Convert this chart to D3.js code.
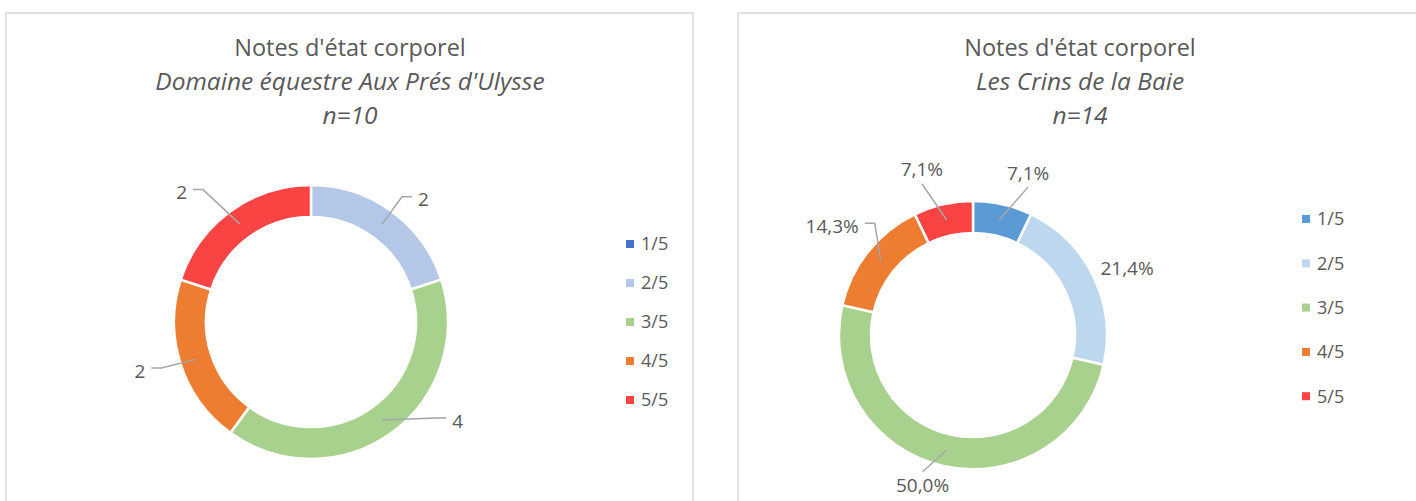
<!DOCTYPE html>
<html>
<head>
<meta charset="utf-8">
<script src="https://cdn.jsdelivr.net/npm/d3@7"></script>
<style>
  html, body { margin: 0; padding: 0; background: #fff; }
  svg { display: block; font-family: "Open Sans", "Noto Sans", sans-serif; }
</style>
</head>
<body>
<svg width="1416" height="501"></svg>
<script>
// categories and values
const categories = ["1/5", "2/5", "3/5", "4/5", "5/5"];
const countsUlysse = [0, 2, 4, 2, 2];
const countsCrins = [1, 3, 7, 2, 1];

const colorsUlysse = ["#4472C4", "#B4C7E7", "#A9D18E", "#ED7D31", "#FA4343"];
const colorsCrins = ["#5B9BD5", "#BDD7EE", "#A9D18E", "#ED7D31", "#FA4343"];

const titleMain = "Notes d'état corporel";
const subtitleUlysse = "Domaine équestre Aux Prés d'Ulysse";
const subtitleCrins = "Les Crins de la Baie";

// label placement: [angle in degrees, distance from centre, leader type]
const labelsUlysse = [null, [42.6, 166, "s"], [124, 177, "s"], [254, 178, "s"], [315, 183, "s"]];
const labelsCrins = [[18.8, 171, "v"], [66.5, 168, "none"], [198.5, 159, "v"], [307.7, 178, "s"], [342.8, 173, "v"]];

const textColor = "#595959";
const leaderColor = "#a6a6a6";

const svg = d3.select("svg");
svg.append("rect").attr("width", 1416).attr("height", 501).attr("fill", "#fff");

const pie = d3.pie().sort(null).value(d => d.value);
const fmtPct = v => d3.format(".1f")(v).replace(".", ",") + "%";

function drawPanel(opts) {
  const g = svg.append("g");

  // frame
  g.append("rect")
    .attr("x", opts.frame[0]).attr("y", opts.frame[1])
    .attr("width", opts.frame[2]).attr("height", opts.frame[3])
    .attr("fill", "none").attr("stroke", "#d9d9d9").attr("stroke-width", 1.5);

  // title
  const title = g.append("text")
    .attr("x", opts.titleX).attr("text-anchor", "middle")
    .attr("fill", textColor).attr("font-size", 23.5);
  title.append("tspan").attr("x", opts.titleX).attr("y", 56).text(titleMain);
  title.append("tspan").attr("x", opts.titleX).attr("y", 90).attr("font-style", "italic").attr("font-size", 24.5).text(opts.subtitle);
  title.append("tspan").attr("x", opts.titleX).attr("y", 124).attr("font-style", "italic").attr("font-size", 24.5).text(`n=${d3.sum(opts.values)}`);

  const data = categories.map((c, i) => ({ cat: c, value: opts.values[i], color: opts.colors[i], label: opts.labels[i] }));
  const total = d3.sum(opts.values);
  const arcs = pie(data);

  const arc = d3.arc().innerRadius(opts.inner).outerRadius(opts.outer);
  const mid = d3.arc().innerRadius((opts.inner + opts.outer) / 2).outerRadius((opts.inner + opts.outer) / 2);

  const donut = g.append("g").attr("transform", `translate(${opts.cx},${opts.cy})`);
  donut.selectAll("path.slice")
    .data(arcs.filter(d => d.data.value > 0))
    .join("path")
      .attr("class", "slice")
      .attr("d", arc)
      .attr("fill", d => d.data.color)
      .attr("stroke", "#fff")
      .attr("stroke-width", 2.5);

  // data labels
  arcs.filter(d => d.data.value > 0 && d.data.label).forEach(d => {
    const [deg, dist, type] = d.data.label;
    const a = deg * Math.PI / 180;
    const lx = dist * Math.sin(a), ly = -dist * Math.cos(a);
    const txt = opts.percent ? fmtPct(d.data.value / total * 100) : String(d.data.value);
    const t = donut.append("text")
      .attr("x", lx).attr("y", ly)
      .attr("dy", "0.35em")
      .attr("text-anchor", "middle")
      .attr("fill", textColor).attr("font-size", 19)
      .text(txt);
    const w = t.node().getComputedTextLength();
    const [cx0, cy0] = mid.centroid(d);
    let pts = null;
    if (type === "s") {
      const dir = lx > cx0 ? -1 : 1;
      const x1 = lx + dir * (w / 2 + 6);
      const x2 = x1 + dir * 10;
      pts = [[x1, ly - 3], [x2, ly - 3], [cx0, cy0]];
    } else if (type === "v") {
      const yEdge = ly < cy0 ? ly + 14 : ly - 14;
      pts = [[lx, yEdge], [cx0, cy0]];
    }
    if (pts) {
      donut.insert("path", "text")
        .attr("d", d3.line()(pts))
        .attr("fill", "none")
        .attr("stroke", leaderColor)
        .attr("stroke-width", 1.5);
    }
  });

  // legend
  const legend = g.append("g").attr("transform", `translate(${opts.legendX},${opts.legendY})`);
  const item = legend.selectAll("g")
    .data(data)
    .join("g")
      .attr("transform", (d, i) => `translate(0,${i * opts.legendStep})`);
  item.append("rect")
    .attr("x", 0).attr("y", -4).attr("width", 8).attr("height", 8)
    .attr("fill", d => d.color);
  item.append("text")
    .attr("x", 15).attr("y", 0).attr("dy", "0.35em")
    .attr("fill", textColor).attr("font-size", 18)
    .text(d => d.cat);
}

drawPanel({
  frame: [6, 13, 687, 520],
  titleX: 350,
  subtitle: subtitleUlysse,
  values: countsUlysse,
  colors: colorsUlysse,
  labels: labelsUlysse,
  percent: false,
  cx: 311, cy: 322, outer: 137, inner: 105,
  legendX: 626, legendY: 244, legendStep: 39
});

drawPanel({
  frame: [738, 13, 720, 520],
  titleX: 1080,
  subtitle: subtitleCrins,
  values: countsCrins,
  colors: colorsCrins,
  labels: labelsCrins,
  percent: true,
  cx: 973, cy: 335, outer: 134, inner: 102,
  legendX: 1302, legendY: 219, legendStep: 44.3
});
</script>
</body>
</html>
